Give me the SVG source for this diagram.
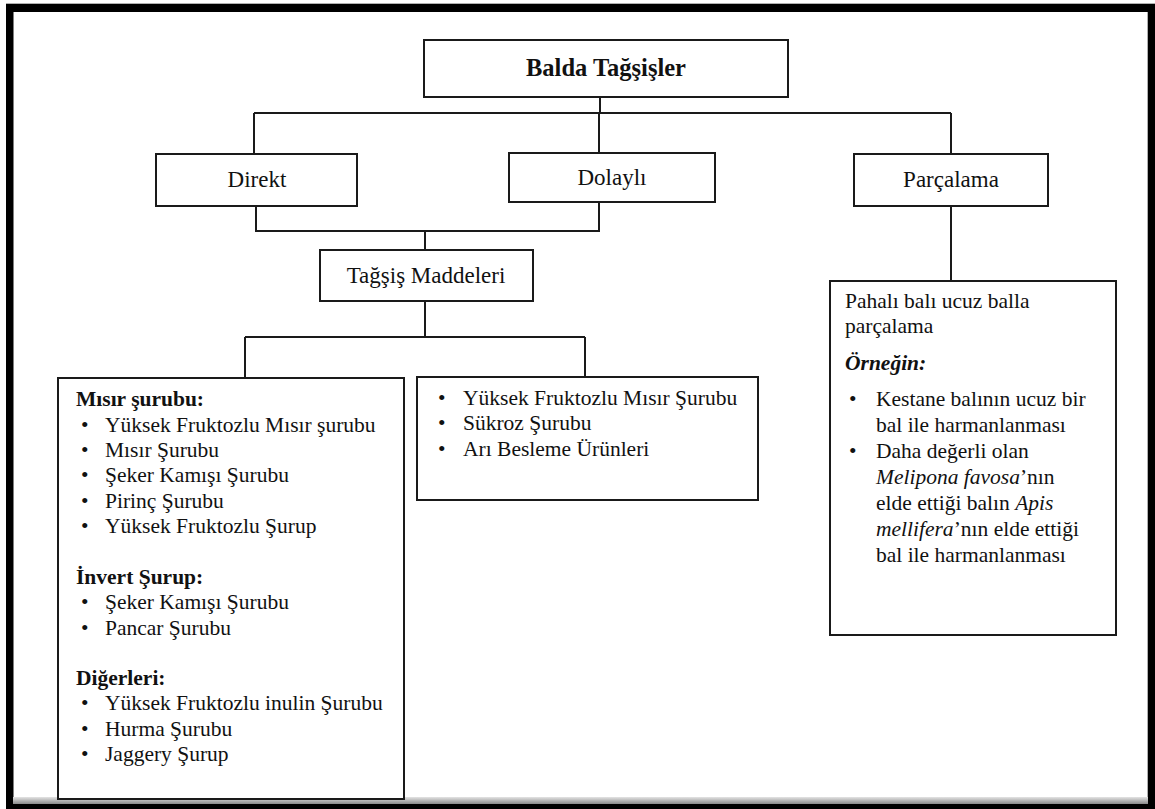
<svg xmlns="http://www.w3.org/2000/svg" width="1155" height="809" viewBox="0 0 1155 809">
<defs>
<linearGradient id="band" x1="0" y1="0" x2="0" y2="1">
<stop offset="0" stop-color="#e4e4e4"/>
<stop offset="1" stop-color="#8a8a8a"/>
</linearGradient>
<style>
.box{fill:#fff;stroke:#1a1a1a;stroke-width:2}
.ln{fill:none;stroke:#1a1a1a;stroke-width:2}
.lbl{font-family:"Liberation Serif","Times New Roman",serif;font-size:23px;fill:#111;text-anchor:middle}
.t{font-family:"Liberation Serif","Times New Roman",serif;font-size:21.5px;fill:#111}
.b{font-weight:bold}
.i{font-style:italic}
</style>
</defs>
<rect x="0" y="0" width="1155" height="809" fill="#fff"/>
<g id="frame">
<rect x="6" y="3" width="1149" height="1" fill="#b0b0b0"/>
<rect x="6" y="4" width="1149" height="8" fill="#000"/>
<rect x="6" y="4" width="7.5" height="805" fill="#000"/>
<rect x="1147" y="12" width="1" height="785" fill="#b0b0b0"/>
<rect x="1148" y="4" width="7" height="805" fill="#000"/>
<rect x="13" y="797" width="1135" height="7" fill="url(#band)"/>
<rect x="6" y="804" width="1149" height="5" fill="#000"/>
</g>
<g id="connectors">
<path class="ln" d="M600 97V113M254 113H951M254 113V154M599 113V153M951 113V154"/>
<path class="ln" d="M256 206V231H599V202M425 231V250"/>
<path class="ln" d="M425 301V337M245 337H585M245 337V378M585 337V377"/>
<path class="ln" d="M951 206V281"/>
</g>
<g id="node-root">
<rect class="box" x="424" y="40" width="364" height="57"/>
<text class="lbl b" x="606" y="76" style="font-size:24.5px">Balda Tağşişler</text>
</g>
<g id="node-direkt">
<rect class="box" x="156" y="154" width="201" height="52"/>
<text class="lbl" x="257" y="187">Direkt</text>
</g>
<g id="node-dolayli">
<rect class="box" x="509" y="153" width="206" height="49"/>
<text class="lbl" x="612" y="185">Dolaylı</text>
</g>
<g id="node-parcalama">
<rect class="box" x="854" y="154" width="194" height="52"/>
<text class="lbl" x="951" y="187">Parçalama</text>
</g>
<g id="node-tagsis">
<rect class="box" x="320" y="250" width="213" height="51"/>
<text class="lbl" x="426" y="283">Tağşiş Maddeleri</text>
</g>
<g id="node-left">
<rect class="box" x="58" y="378" width="346" height="421"/>
<text class="t b" x="76" y="406">Mısır şurubu:</text>
<text class="t" x="81" y="431.5">•</text><text class="t" x="105" y="431.5">Yüksek Fruktozlu Mısır şurubu</text>
<text class="t" x="81" y="457">•</text><text class="t" x="105" y="457">Mısır Şurubu</text>
<text class="t" x="81" y="482">•</text><text class="t" x="105" y="482">Şeker Kamışı Şurubu</text>
<text class="t" x="81" y="507.5">•</text><text class="t" x="105" y="507.5">Pirinç Şurubu</text>
<text class="t" x="81" y="533">•</text><text class="t" x="105" y="533">Yüksek Fruktozlu Şurup</text>
<text class="t b" x="76" y="584">İnvert Şurup:</text>
<text class="t" x="81" y="609">•</text><text class="t" x="105" y="609">Şeker Kamışı Şurubu</text>
<text class="t" x="81" y="634.5">•</text><text class="t" x="105" y="634.5">Pancar Şurubu</text>
<text class="t b" x="76" y="685">Diğerleri:</text>
<text class="t" x="81" y="710">•</text><text class="t" x="105" y="710">Yüksek Fruktozlu inulin Şurubu</text>
<text class="t" x="81" y="735.5">•</text><text class="t" x="105" y="735.5">Hurma Şurubu</text>
<text class="t" x="81" y="761">•</text><text class="t" x="105" y="761">Jaggery Şurup</text>
</g>
<g id="node-middle">
<rect class="box" x="417" y="377" width="341" height="123"/>
<text class="t" x="438" y="405">•</text><text class="t" x="463" y="405">Yüksek Fruktozlu Mısır Şurubu</text>
<text class="t" x="438" y="430">•</text><text class="t" x="463" y="430">Sükroz Şurubu</text>
<text class="t" x="438" y="456">•</text><text class="t" x="463" y="456">Arı Besleme Ürünleri</text>
</g>
<g id="node-right">
<rect class="box" x="830" y="281" width="286" height="354"/>
<text class="t" x="845" y="308">Pahalı balı ucuz balla</text>
<text class="t" x="845" y="333">parçalama</text>
<text class="t b i" x="845" y="370">Örneğin:</text>
<text class="t" x="849" y="406">•</text><text class="t" x="876" y="406">Kestane balının ucuz bir</text>
<text class="t" x="876" y="432">bal ile harmanlanması</text>
<text class="t" x="849" y="458">•</text><text class="t" x="876" y="458">Daha değerli olan</text>
<text class="t" x="876" y="484"><tspan class="i">Melipona favosa</tspan>’nın</text>
<text class="t" x="876" y="510">elde ettiği balın <tspan class="i">Apis</tspan></text>
<text class="t" x="876" y="536"><tspan class="i">mellifera</tspan>’nın elde ettiği</text>
<text class="t" x="876" y="562">bal ile harmanlanması</text>
</g>
</svg>
